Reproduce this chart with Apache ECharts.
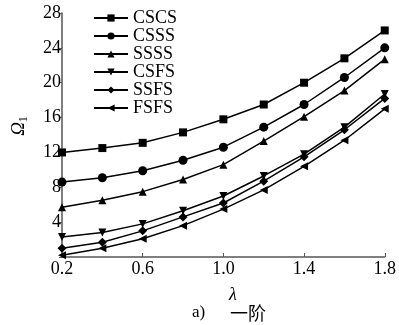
<!DOCTYPE html>
<html><head><meta charset="utf-8">
<script src="https://cdn.jsdelivr.net/npm/echarts@6/dist/echarts.min.js"></script>
<style>html,body{margin:0;padding:0;background:#fff}#c{width:399px;height:325px}</style>
</head><body><div id="c"></div>
<script>
var lambda = [0.2, 0.4, 0.6, 0.8, 1.0, 1.2, 1.4, 1.6, 1.8];
var CSCS = [12.0, 12.5, 13.1, 14.3, 15.8, 17.5, 20.0, 22.8, 26.0];
var CSSS = [8.6, 9.1, 9.9, 11.1, 12.6, 14.9, 17.5, 20.6, 24.0];
var SSSS = [5.7, 6.5, 7.5, 8.9, 10.6, 13.3, 16.1, 19.1, 22.7];
var CSFS = [2.3, 2.8, 3.8, 5.3, 7.0, 9.3, 11.8, 14.9, 18.7];
var SSFS = [1.0, 1.7, 3.0, 4.6, 6.2, 8.7, 11.5, 14.6, 18.2];
var FSFS = [0.2, 1.0, 2.1, 3.6, 5.5, 7.7, 10.4, 13.4, 17.0];
var seriesNames = ['CSCS', 'CSSS', 'SSSS', 'CSFS', 'SSFS', 'FSFS'];
var seriesData = [CSCS, CSSS, SSSS, CSFS, SSFS, FSFS];
var symbols = ['rect', 'circle', 'triangle', 'triangle', 'diamond', 'triangle'];
var rotations = [0, 0, 0, 180, 0, 90];
var sizes = [8, 9, 8, 8, 9, 8];
var xTicks = {min: 0.2, max: 1.8, step: 0.4};
var yTicks = {min: 0, max: 28, step: 4};

var FONT = '"Liberation Serif", "Times New Roman", serif';
var chart = echarts.init(document.getElementById('c'), null, {renderer: 'canvas'});

var series = seriesNames.map(function (n, i) {
  return {
    name: n, type: 'line',
    data: lambda.map(function (x, j) { return [x, seriesData[i][j]]; }),
    symbol: symbols[i], symbolSize: sizes[i], symbolRotate: rotations[i],
    showAllSymbol: true,
    lineStyle: {color: '#000', width: 1.5},
    itemStyle: {color: '#000'},
    emphasis: {disabled: true},
    animation: false
  };
});

chart.setOption({
  animation: false,
  backgroundColor: '#fff',
  grid: {left: 62, right: 4, top: 13, bottom: 68, containLabel: false},
  legend: {
    orient: 'vertical', left: 88, top: 4,
    itemWidth: 34, itemHeight: 9, itemGap: 0,
    symbolRotate: 'inherit',
    textStyle: {fontFamily: FONT, fontSize: 18, color: '#000', lineHeight: 17.2},
    data: seriesNames
  },
  xAxis: {
    type: 'value', min: xTicks.min, max: xTicks.max, interval: xTicks.step,
    axisLine: {show: true, lineStyle: {color: '#555', width: 1.5}},
    axisTick: {show: true, inside: true, length: 4, lineStyle: {color: '#555'}},
    splitLine: {show: false},
    axisLabel: {fontFamily: FONT, fontSize: 18, color: '#000', margin: 3,
      formatter: function (v) { return (+v).toFixed(1); }}
  },
  yAxis: {
    type: 'value', min: yTicks.min, max: yTicks.max, interval: yTicks.step,
    axisLine: {show: true, lineStyle: {color: '#555', width: 1.5}},
    axisTick: {show: true, inside: false, length: 3, lineStyle: {color: '#555'}},
    splitLine: {show: false},
    axisLabel: {fontFamily: FONT, fontSize: 18, color: '#000', margin: 1,
      formatter: function (v) { return v === 0 ? '' : String(v); }}
  },
  graphic: [
    {type: 'text', x: 19, y: 126, rotation: Math.PI / 2,
      style: {text: '{a|Ω}{b|1}', x: 0, y: 0, align: 'center', verticalAlign: 'middle',
        rich: {a: {fontFamily: FONT, fontStyle: 'italic', fontSize: 19, fill: '#000'},
               b: {fontFamily: FONT, fontSize: 12, fill: '#000', padding: [10, 0, 0, 0]}}}},
    {type: 'text', x: 233, y: 295,
      style: {text: 'λ', align: 'center', verticalAlign: 'middle', fontFamily: FONT,
        fontStyle: 'italic', fontSize: 18, fill: '#000'}},
    {type: 'text', x: 192, y: 313,
      style: {text: 'a)', align: 'left', verticalAlign: 'middle', fontFamily: FONT,
        fontSize: 17, fill: '#000'}},
    {type: 'text', x: 230, y: 313,
      style: {text: '一阶', align: 'left', verticalAlign: 'middle', fontFamily: '"Noto Sans CJK SC", serif',
        fontSize: 18, fill: '#000'}}
  ],
  series: series
});
</script></body></html>
